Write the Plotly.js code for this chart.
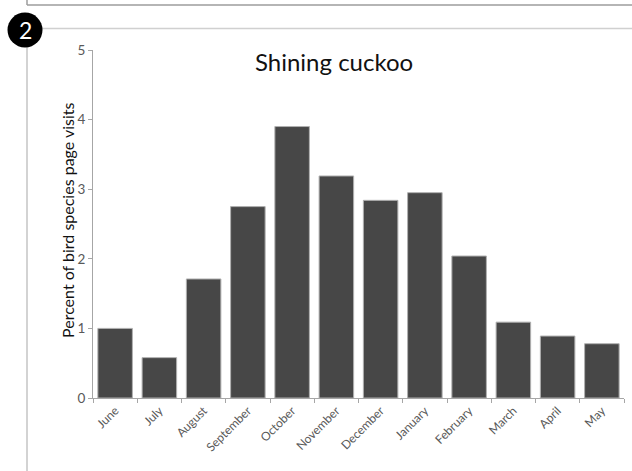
<!DOCTYPE html>
<html>
<head>
<meta charset="utf-8">
<script src="https://cdn.plot.ly/plotly-3.0.1.min.js"></script>
<style>
  html, body { margin: 0; padding: 0; background: #fff; }
  #chart { width: 632px; height: 471px; }
</style>
</head>
<body>
<div id="chart"></div>
<script>
// Monthly share of bird species page visits for the Shining cuckoo
const months = ["June", "July", "August", "September", "October", "November",
                "December", "January", "February", "March", "April", "May"];
const percentVisits = [1.0, 0.58, 1.71, 2.75, 3.9, 3.19, 2.84, 2.95, 2.04, 1.09, 0.89, 0.78];
const yTicks = [0, 1, 2, 3, 4, 5];

const W = 632, H = 471;
const M = { l: 93, r: 8, t: 50, b: 73 };
const plotW = W - M.l - M.r, plotH = H - M.t - M.b;
// convert page pixels to paper coordinates for the panel decorations
const px = x => (x - M.l) / plotW;
const py = y => (H - M.b - y) / plotH;

const axisGrey = "#a6a6a6";
const labelGrey = "#595959";
const font = "Lato, 'Open Sans', sans-serif";

const trace = {
  type: "bar",
  x: months,
  y: percentVisits,
  marker: { color: "#474747", line: { color: "#b0b0b0", width: 1 } },
  hoverinfo: "x+y"
};

const layout = {
  width: W, height: H,
  margin: M,
  paper_bgcolor: "#fff",
  plot_bgcolor: "#fff",
  showlegend: false,
  bargap: 0.22,
  font: { family: font, color: labelGrey },
  xaxis: {
    type: "category",
    showline: true, linecolor: axisGrey, linewidth: 1,
    ticks: "outside", tickson: "boundaries", ticklen: 4, tickcolor: axisGrey,
    tickangle: -45,
    tickfont: { family: font, size: 12, color: labelGrey },
    showgrid: false, zeroline: false, fixedrange: true
  },
  yaxis: {
    range: [0, 5],
    tickvals: yTicks,
    showline: true, linecolor: axisGrey, linewidth: 1,
    ticks: "outside", ticklen: 4, tickcolor: axisGrey,
    tickfont: { family: font, size: 13.5, color: labelGrey },
    showgrid: false, zeroline: false, fixedrange: true
  },
  annotations: [
    {
      text: "Shining cuckoo",
      xref: "paper", yref: "paper", x: px(334), y: py(62),
      xanchor: "center", yanchor: "middle", showarrow: false,
      font: { family: font, size: 24, color: "#111" }
    },
    {
      text: "Percent of bird species page visits",
      xref: "paper", yref: "paper", x: px(67), y: py(220),
      xanchor: "center", yanchor: "middle", textangle: -90, showarrow: false,
      font: { family: font, size: 16, color: "#111" }
    },
    {
      text: "2",
      xref: "paper", yref: "paper", x: px(25), y: py(30),
      xanchor: "center", yanchor: "middle", showarrow: false,
      font: { family: font, size: 23, color: "#fff" }
    }
  ],
  shapes: [
    // frame edge of the panel above
    { type: "line", xref: "paper", yref: "paper", x0: px(27), x1: px(W), y0: py(5), y1: py(5),
      line: { color: "#9c9c9c", width: 1.5 } },
    { type: "line", xref: "paper", yref: "paper", x0: px(27), x1: px(27), y0: py(0), y1: py(5),
      line: { color: "#9c9c9c", width: 1.5 } },
    // this panel's frame
    { type: "line", xref: "paper", yref: "paper", x0: px(40), x1: px(W), y0: py(28.5), y1: py(28.5),
      line: { color: "#d0d0d0", width: 1.5 } },
    { type: "line", xref: "paper", yref: "paper", x0: px(27), x1: px(27), y0: py(40), y1: py(H),
      line: { color: "#c4c4c4", width: 1.5 } },
    // panel number badge
    { type: "circle", xref: "paper", yref: "paper",
      x0: px(7.5), x1: px(42.5), y0: py(12.5), y1: py(47.5),
      fillcolor: "#000", line: { color: "#000", width: 0 } }
  ]
};

Plotly.newPlot("chart", [trace], layout, { displayModeBar: false, staticPlot: true });
</script>
</body>
</html>
